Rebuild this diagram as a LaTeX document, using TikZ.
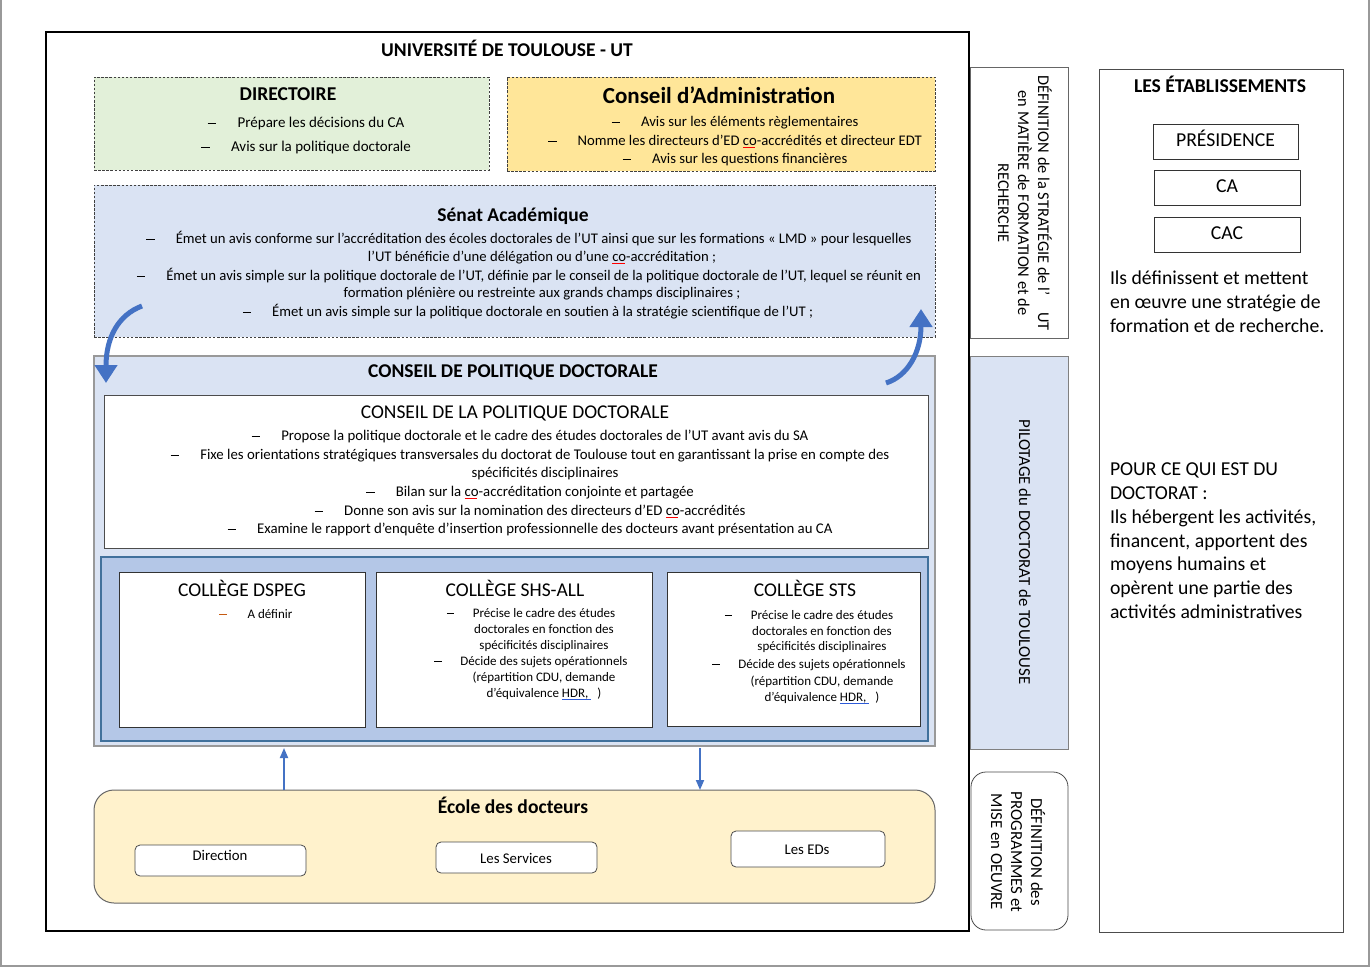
\documentclass[tikz,border=0pt]{standalone}
\usepackage{fontspec}
\setmainfont{Carlito}
\usepackage{graphicx}
\usetikzlibrary{arrows.meta}
\definecolor{dirgreen}{HTML}{E2F0D9}
\definecolor{cagold}{HTML}{FFE699}
\definecolor{lblue}{HTML}{DAE3F3}
\definecolor{mblue}{HTML}{B4C7E7}
\definecolor{edyellow}{HTML}{FFF2CC}
\definecolor{arrblue}{HTML}{4472C4}
\definecolor{collborder}{HTML}{41719C}
\definecolor{dashorange}{HTML}{C55A11}
\definecolor{ublue}{HTML}{2E5BD8}
\newcommand\fsz[1]{\fontsize{#1}{#1}\selectfont}
\newcommand\dbar{\raisebox{0.26em}{\rule{0.58em}{0.07em}}}
\newcommand\dsh{\dbar\hspace{1.42em}}
\newcommand\co{\rlap{\textcolor{red}{\rule[-2.2pt]{0.85em}{0.6pt}}}co}
\newcommand\hdr{\rlap{\textcolor{ublue}{\rule[-2pt]{2.2em}{0.8pt}}}HDR,\hspace{0.7em})}
\newcommand\bx[6][]{\node[box,#1,minimum width={(#5-#3)*1pt},minimum height={(#6-#4)*1pt}] (#2) at (#3,#4) {};}
\begin{document}
\begin{tikzpicture}[x=1pt,y=-1pt,
  every node/.style={inner sep=0pt,outer sep=0pt},
  box/.style={draw,anchor=north west},
  dbox/.style={draw=black!75,line width=0.8pt,dash pattern=on 2.5pt off 1.6pt},
  tl/.style={text height=1.1em,text depth=0pt},
  senl/.style={tl,font=\fsz{14.7}},
  cpdl/.style={tl,font=\fsz{14.8}},
  coll/.style={tl,font=\fsz{13}},
  bigarr/.style={draw=arrblue,line width=5pt,-{Triangle[length=18pt,width=22pt]}},
  smallarr/.style={draw=arrblue,line width=1.8pt,-{Triangle[length=10pt,width=8pt]}},
  edbox/.style={fill=white,draw=black!70,line width=0.8pt,rounded corners=5pt},
  cbox/.style={fill=white,draw=black!80,line width=0.8pt}
]
\useasboundingbox (0,0) rectangle (1370,968);
\fill[white] (0,0) rectangle (1370,968);
\draw[black!40,line width=1.5pt] (0.8,0) -- (0.8,966) -- (1369,966) -- (1369,0);

% main frame
\bx[line width=1.6pt]{main}{46}{32}{969}{931}
\node[tl,font=\bfseries\fsz{19.5}] (utitle) at (507,51) {UNIVERSITÉ DE TOULOUSE - UT};

% Directoire
\bx[dbox,fill=dirgreen]{dir}{94}{77}{489}{170}
\node[tl,font=\bfseries\fsz{19.6}] (dirt) at (288,95) {DIRECTOIRE};
\node[tl,font=\fsz{15}] (dir1) at (306,122) {\dsh Prépare les décisions du CA};
\node[tl,font=\fsz{15}] (dir2) at (306,146) {\dsh Avis sur la politique doctorale};

% Conseil d'Administration
\bx[dbox,fill=cagold]{ca}{507}{77}{935}{171}
\node[tl,font=\bfseries\fsz{23}] (cat) at (719,98) {Conseil d’Administration};
\node[tl,font=\fsz{14.7}] (ca1) at (735,121) {\dsh Avis sur les éléments règlementaires};
\node[tl,font=\fsz{14.7}] (ca2) at (735,140) {\dsh Nomme les directeurs d’ED \co-accrédités et directeur EDT};
\node[tl,font=\fsz{14.7}] (ca3) at (735,158) {\dsh Avis sur les questions financières};

% Senat
\bx[dbox,fill=lblue]{sen}{94}{185}{935}{337}
\node[tl,font=\bfseries\fsz{19.5}] (sent) at (513,216) {Sénat Académique};
\node[senl] (s1) at (529,238) {\dsh Émet un avis conforme sur l'accréditation des écoles doctorales de l'UT ainsi que sur les formations «~LMD~» pour lesquelles};
\node[senl] (s2) at (542,256) {l'UT bénéficie d'une délégation ou d'une \co-accréditation ;};
\node[senl] (s3) at (529,275) {\dsh Émet un avis simple sur la politique doctorale de l'UT, définie par le conseil de la politique doctorale de l'UT, lequel se réunit en};
\node[senl] (s4) at (542,292) {formation plénière ou restreinte aux grands champs disciplinaires ;};
\node[senl] (s5) at (528,311) {\dsh Émet un avis simple sur la politique doctorale en soutien à la stratégie scientifique de l'UT ;};

% Conseil de politique doctorale
\bx[fill=lblue,draw=black!40,line width=1.2pt]{cpd}{94}{356}{935}{746}
\node[tl,font=\bfseries\fsz{19.5}] (cpdt) at (513,372) {CONSEIL DE POLITIQUE DOCTORALE};
\bx[fill=white,draw=black!70,line width=0.8pt]{cpdin}{104}{395}{928}{548}
\node[tl,font=\fsz{19.5}] (cpdint) at (515,413) {CONSEIL DE LA POLITIQUE DOCTORALE};
\node[cpdl] (c1) at (530,435) {\dsh Propose la politique doctorale et le cadre des études doctorales de l’UT avant avis du SA};
\node[cpdl] (c2) at (530,454) {\dsh Fixe les orientations stratégiques transversales du doctorat de Toulouse tout en garantissant la prise en compte des};
\node[cpdl] (c3) at (545,472) {spécificités disciplinaires};
\node[cpdl] (c4) at (530,491) {\dsh Bilan sur la \co-accréditation conjointe et partagée};
\node[cpdl] (c5) at (530,510) {\dsh Donne son avis sur la nomination des directeurs d’ED \co-accrédités};
\node[cpdl] (c6) at (530,528) {\dsh Examine le rapport d’enquête d’insertion professionnelle des docteurs avant présentation au CA};

% colleges
\bx[fill=mblue,draw=collborder,line width=2pt]{colls}{101}{557}{928}{741}
\bx[cbox]{dspeg}{119}{572}{365}{727}
\bx[cbox]{shs}{376}{572}{652}{727}
\bx[cbox]{sts}{667}{572}{920}{726}
\node[tl,font=\fsz{19.5}] (dspegt) at (242,591) {COLLÈGE DSPEG};
\node[coll] (dd) at (223,613) {\textcolor{dashorange}{\dbar}};
\node[coll] (d1) at (270,613) {A définir};
\node[tl,font=\fsz{19.5}] (shst) at (515,591) {COLLÈGE SHS-ALL};
\node[coll] (h1) at (531,612) {\dsh Précise le cadre des études};
\node[coll] (h2) at (544,628) {doctorales en fonction des};
\node[coll] (h3) at (544,644) {spécificités disciplinaires};
\node[coll] (h4) at (531,660) {\dsh Décide des sujets opérationnels};
\node[coll] (h5) at (544,676) {(répartition CDU, demande};
\node[coll] (h6) at (544,692) {d’équivalence \hdr};
\node[tl,font=\fsz{19.5}] (stst) at (805,591) {COLLÈGE STS};
\node[coll] (t1) at (809,614) {\dsh Précise le cadre des études};
\node[coll] (t2) at (822,630) {doctorales en fonction des};
\node[coll] (t3) at (822,645) {spécificités disciplinaires};
\node[coll] (t4) at (809,663) {\dsh Décide des sujets opérationnels};
\node[coll] (t5) at (822,680) {(répartition CDU, demande};
\node[coll] (t6) at (822,696) {d’équivalence \hdr};

% big curved arrows
\coordinate (la0) at (142,306);
\coordinate (la1) at (106,383);
\draw[bigarr] (la0) .. controls (118,315) and (106,338) .. (la1);
\coordinate (ra0) at (886,383);
\coordinate (ra1) at (921,309);
\draw[bigarr] (ra0) .. controls (908,376) and (921,352) .. (ra1);

% Ecole des docteurs
\bx[fill=edyellow,draw=black!60,line width=1pt,rounded corners=20pt]{ecole}{94}{790}{935}{903}
\node[tl,font=\bfseries\fsz{19.6}] (ecolet) at (513,808) {École des docteurs};
\bx[edbox]{direc}{135}{845}{306}{876}
\node[tl,font=\fsz{14.8}] (direct) at (220,855) {Direction};
\bx[edbox]{serv}{436}{842}{597}{873}
\node[tl,font=\fsz{14.8}] (servt) at (516,858) {Les Services};
\bx[edbox]{eds}{731}{831}{885}{867}
\node[tl,font=\fsz{14.8}] (edst) at (807,849) {Les EDs};

% small arrows
\coordinate (up1) at (284,0);
\coordinate (dn1) at (700,0);
\draw[smallarr] (up1 |- ecole.north) -- ([yshift=-2pt]up1 |- cpd.south);
\draw[smallarr] ([yshift=-2pt]dn1 |- cpd.south) -- (dn1 |- ecole.north);

% right vertical bands
\bx[draw=black!60,line width=0.8pt]{strat}{970}{67}{1068}{338}
\node[rotate=-90,align=center,font=\fontsize{16.4}{20}\selectfont] (stratt) at (1025,203) {DÉFINITION de la STRATÉGIE de l’\hspace{1em}UT\\en MATIÈRE de FORMATION et de\\RECHERCHE};
\bx[fill=lblue,draw=black!50,line width=0.8pt]{pilot}{970}{356}{1068}{749}
\node[rotate=-90,font=\fsz{16.8}] (pilott) at (1025,552) {PILOTAGE du DOCTORAT de TOULOUSE};
\bx[draw=black!70,line width=0.8pt,rounded corners=15pt]{prog}{971}{772}{1068}{930}
\node[rotate=-90,align=center,font=\fontsize{16.8}{20}\selectfont] (progt) at (1018,852) {DÉFINITION des\\PROGRAMMES et\\MISE en OEUVRE};

% right panel
\bx[draw=black!70,line width=1pt]{etab}{1099}{70}{1343}{932}
\node[tl,font=\bfseries\fsz{19.6}] (etabt) at (1220,87) {LES ÉTABLISSEMENTS};
\bx[draw=black!80,line width=0.9pt]{pres}{1153}{124}{1298}{159}
\node[tl,font=\fsz{19.7}] (prest) at (pres.center) {PRÉSIDENCE};
\bx[draw=black!80,line width=0.9pt]{cab}{1154}{170}{1300}{205}
\node[tl,font=\fsz{19.7}] (cabt) at (cab.center) {CA};
\bx[draw=black!80,line width=0.9pt]{cac}{1154}{217}{1300}{252}
\node[tl,font=\fsz{19.7}] (cact) at (cac.center) {CAC};
\node[anchor=north west,align=left,font=\fontsize{19.7}{24}\selectfont] (ils) at (1110,270.5) {Ils définissent et mettent\\en œuvre une stratégie de\\formation et de recherche.};
\node[anchor=north west,align=left,font=\fontsize{19.7}{23.8}\selectfont] (pour) at (1110,463) {POUR CE QUI EST DU\\DOCTORAT :\\Ils hébergent les activités,\\financent, apportent des\\moyens humains et\\opèrent une partie des\\activités administratives};
\end{tikzpicture}
\end{document}
